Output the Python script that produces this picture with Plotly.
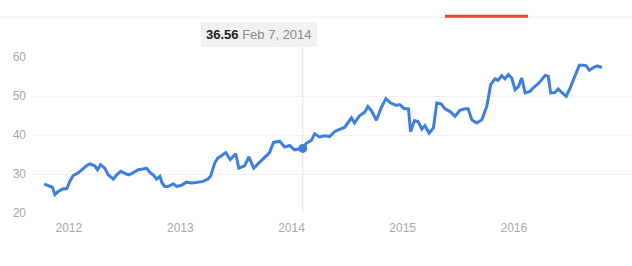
import plotly.graph_objects as go

dates = [
    "2011-10-12", "2011-10-31", "2011-11-08", "2011-11-16", "2011-11-27", "2011-12-13", "2011-12-25",
    "2012-01-04", "2012-01-15", "2012-02-01", "2012-02-12", "2012-02-28", "2012-03-10", "2012-03-26",
    "2012-04-04", "2012-04-14", "2012-04-28", "2012-05-09", "2012-05-26", "2012-06-06", "2012-06-19",
    "2012-07-03", "2012-07-14", "2012-07-25", "2012-08-05", "2012-08-16", "2012-09-01", "2012-09-12",
    "2012-09-23", "2012-10-04", "2012-10-15", "2012-10-26", "2012-11-02", "2012-11-11", "2012-11-22",
    "2012-12-09", "2012-12-20", "2013-01-05", "2013-01-21", "2013-02-06", "2013-02-22", "2013-03-16",
    "2013-04-02", "2013-04-10", "2013-04-24", "2013-05-04", "2013-05-16", "2013-05-30", "2013-06-14",
    "2013-07-02", "2013-07-12", "2013-07-31", "2013-08-14", "2013-08-30", "2013-09-13", "2013-10-05",
    "2013-10-21", "2013-11-03", "2013-11-23", "2013-12-10", "2013-12-26", "2014-01-11", "2014-02-07",
    "2014-02-19", "2014-03-07", "2014-03-18", "2014-04-03", "2014-04-20", "2014-05-06", "2014-05-23",
    "2014-06-08", "2014-06-25", "2014-07-17", "2014-07-27", "2014-08-13", "2014-08-29", "2014-09-09",
    "2014-09-20", "2014-10-07", "2014-10-23", "2014-11-07", "2014-11-23", "2014-12-11", "2014-12-22",
    "2015-01-06", "2015-01-20", "2015-01-27", "2015-02-09", "2015-02-21", "2015-03-05", "2015-03-15",
    "2015-03-29", "2015-04-12", "2015-04-23", "2015-05-07", "2015-05-20", "2015-06-06", "2015-06-22",
    "2015-07-08", "2015-07-25", "2015-08-04", "2015-08-16", "2015-09-01", "2015-09-18", "2015-10-04",
    "2015-10-17", "2015-10-31", "2015-11-10", "2015-11-22", "2015-12-03", "2015-12-14", "2015-12-25",
    "2016-01-05", "2016-01-16", "2016-01-27", "2016-02-07", "2016-02-23", "2016-03-05", "2016-03-22",
    "2016-04-02", "2016-04-13", "2016-04-23", "2016-05-01", "2016-05-15", "2016-05-26", "2016-06-06",
    "2016-06-21", "2016-07-04", "2016-07-15", "2016-07-26", "2016-08-03", "2016-08-16", "2016-08-25",
    "2016-09-05", "2016-09-18", "2016-10-01", "2016-10-16",
]

prices = [
    27.4, 26.8, 26.6, 24.7, 25.5, 26.2, 26.2,
    28.1, 29.6, 30.3, 31.1, 32.1, 32.6, 32.1,
    31.1, 32.4, 31.5, 29.8, 28.7, 29.8, 30.7,
    30.3, 29.8, 30.1, 30.7, 31.1, 31.3, 31.5,
    30.4, 29.8, 28.7, 29.4, 27.7, 26.8, 26.8,
    27.5, 26.8, 27.1, 27.9, 27.7, 27.8, 28.1,
    28.7, 29.4, 32.8, 34.1, 34.7, 35.5, 33.7,
    35.2, 31.5, 32.1, 34.4, 31.5, 32.6, 34.4,
    35.5, 38.1, 38.4, 36.9, 37.3, 36.2, 36.56,
    37.9, 38.6, 40.3, 39.5, 39.8, 39.6, 40.9,
    41.5, 42.0, 44.4, 43.1, 45.0, 45.8, 47.3,
    46.3, 43.8, 47.1, 49.3, 48.2, 47.6, 47.8,
    46.8, 46.7, 40.9, 43.7, 43.4, 41.5, 42.4,
    40.5, 41.8, 48.2, 48.0, 46.7, 46.0, 44.8,
    46.3, 46.7, 46.7, 43.9, 43.1, 43.9, 47.3,
    52.9, 54.4, 54.0, 55.2, 54.4, 55.5, 54.6,
    51.6, 52.4, 54.6, 50.8, 51.2, 52.1, 53.2,
    54.3, 55.3, 55.1, 50.8, 50.9, 51.8, 50.9,
    49.9, 52.1, 54.2, 56.8, 57.9, 57.9, 57.8,
    56.6, 57.3, 57.7, 57.3,
]

y_ticks = [20, 30, 40, 50, 60]
x_tick_vals = ["2012-01-01", "2013-01-01", "2014-01-01", "2015-01-01", "2016-01-01"]
x_tick_text = ["2012", "2013", "2014", "2015", "2016"]

hover_date = "2014-02-07"
hover_label = "Feb 7, 2014"
hover_value = 36.56

BLUE = "#3d7fe0"
GRID = "#f0f0f0"
LABEL = "#a8a8a8"
FONT = "Liberation Sans, Arial, sans-serif"

fig = go.Figure()
fig.add_trace(go.Scatter(
    x=dates, y=prices, mode="lines",
    line=dict(color=BLUE, width=3, shape="linear"),
    hoverinfo="skip", showlegend=False,
))
fig.add_trace(go.Scatter(
    x=[hover_date], y=[hover_value], mode="markers",
    marker=dict(color=BLUE, size=9),
    hoverinfo="skip", showlegend=False,
))

# hover guide line
fig.add_shape(type="line", xref="x", yref="paper",
              x0=hover_date, x1=hover_date, y0=0, y1=1.066,
              line=dict(color="#e2e2e2", width=1), layer="below")

# top tab line and active red indicator
fig.add_shape(type="line", xref="paper", yref="paper",
              x0=-0.06, x1=1.0, y0=1.255, y1=1.255,
              line=dict(color="#eeeeee", width=1))
fig.add_shape(type="line", xref="paper", yref="paper",
              x0=(445 - 32) / 600, x1=(528 - 32) / 600, y0=1.262, y1=1.262,
              line=dict(color="#dd4b39", width=3))

# tooltip
fig.add_annotation(
    xref="paper", yref="paper",
    x=(259 - 32) / 600, y=(213.3 - 34.5) / 156,
    text=f"<b>{hover_value:.2f}</b> <span style='color:#8a8a8a'>{hover_label}</span>",
    showarrow=False, font=dict(family=FONT, size=13, color="#222222"),
    bgcolor="#f1f1f1", borderpad=5, borderwidth=0,
    xanchor="center", yanchor="middle",
)

fig.update_layout(
    width=632, height=266,
    margin=dict(l=32, r=0, t=57, b=53),
    paper_bgcolor="white", plot_bgcolor="white",
    font=dict(family=FONT, size=12, color=LABEL),
    showlegend=False,
    xaxis=dict(
        type="date",
        range=["2011-09-02", "2017-01-23"],
        tickvals=x_tick_vals, ticktext=x_tick_text,
        showgrid=False, zeroline=False, showline=False,
        ticks="", ticklabelstandoff=6,
        tickfont=dict(family=FONT, size=12, color=LABEL),
        fixedrange=True,
    ),
    yaxis=dict(
        range=[20, 60],
        tickvals=y_ticks,
        showgrid=True, gridcolor=GRID, gridwidth=1,
        zeroline=False, showline=False,
        ticks="", ticklabelstandoff=5,
        tickfont=dict(family=FONT, size=12, color=LABEL),
        fixedrange=True,
    ),
)

fig.write_html("out.html")
